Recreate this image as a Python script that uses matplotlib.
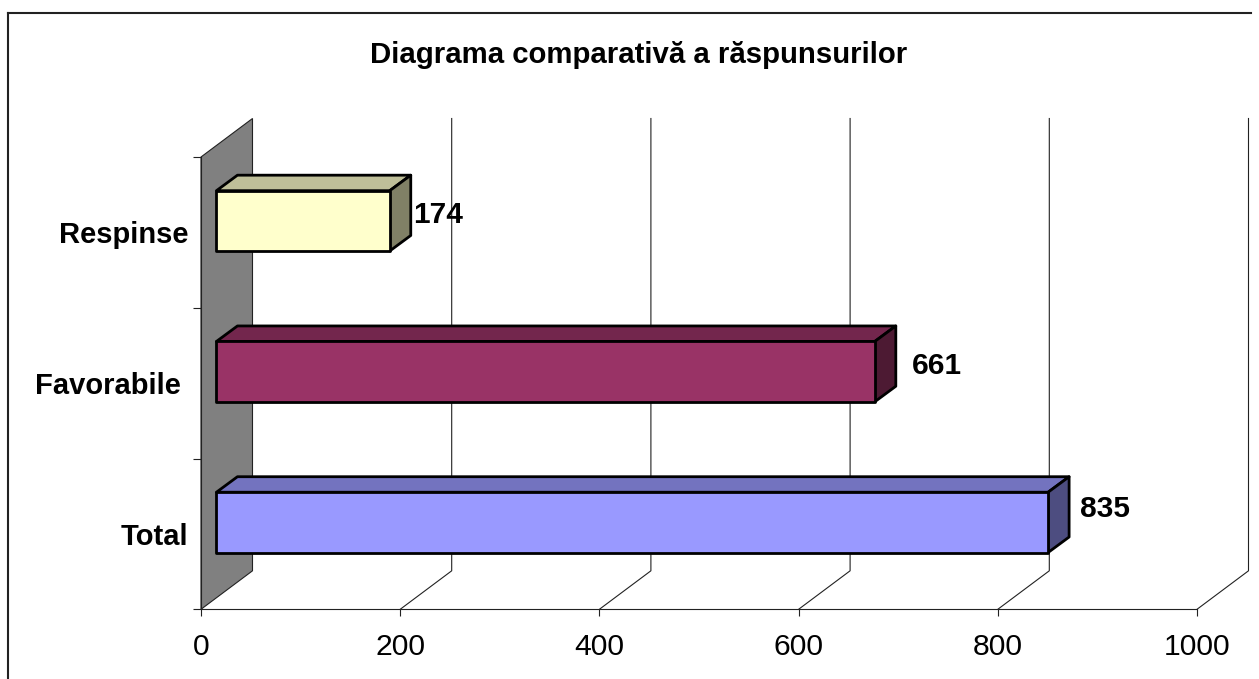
"""Bar chart with a hand-built 3D look, in the old Excel style."""

import matplotlib
matplotlib.use("Agg")
import matplotlib.pyplot as plt
from matplotlib.lines import Line2D
from matplotlib.patches import Rectangle

plt.rcParams["font.family"] = ["Liberation Sans", "DejaVu Sans"]

W, H = 1259, 679

TITLE = "Diagrama comparativă a răspunsurilor"
CATEGORIES = ["Total", "Favorabile ", "Respinse"]
VALUES = [835, 661, 174]
X_TICKS = [0, 200, 400, 600, 800, 1000]
FRONT_COLORS = ["#9999FF", "#993366", "#FFFFCC"]
TOP_COLORS = ["#7373BF", "#73264D", "#BFBF99"]
SIDE_COLORS = ["#4D4D80", "#4D1A33", "#808066"]
LABEL_OFFSETS = [(36, 44), (41, 36), (27, 36)]   # px from the bar end, by eye

# plot front plane in pixels
LEFT, RIGHT, TOP, BOTTOM = 201, 1197, 157, 609.3
WALL_DX, WALL_DY = 51.5, 38.5    # px, depth of the whole chart
BAR_DX, BAR_DY = 21, 15.5        # px, depth of one bar
BAR_SHIFT = 0.3                  # bars sit this far into the depth
BAR_HEIGHT = 0.4


def main():
    fig = plt.figure(figsize=(W / 100, H / 100), dpi=100)
    ax = fig.add_axes([LEFT / W, 1 - BOTTOM / H, (RIGHT - LEFT) / W, (BOTTOM - TOP) / H])
    ax.set_xlim(0, 1000)
    ax.set_ylim(0, 3)
    ax.patch.set_visible(False)

    per_x = 1000 / (RIGHT - LEFT)
    per_y = 3 / (BOTTOM - TOP)
    wall_x, wall_y = WALL_DX * per_x, WALL_DY * per_y
    bar_x, bar_y = BAR_DX * per_x, BAR_DY * per_y
    shift_x, shift_y = BAR_SHIFT * wall_x, BAR_SHIFT * wall_y

    # frame round the chart
    fig.add_artist(Line2D([8 / W, 8 / W], [0, 1 - 13 / H], color="#222222", lw=1.5))
    fig.add_artist(Line2D([8 / W, 1251 / W], [1 - 13 / H, 1 - 13 / H], color="#222222", lw=1.5))

    # side wall
    ax.fill([0, wall_x, wall_x, 0], [0, wall_y, 3 + wall_y, 3],
            facecolor="#808080", edgecolor="#222222", lw=0.8, clip_on=False, zorder=1)

    # gridlines on the back and floor
    for t in X_TICKS[1:]:
        ax.plot([t, t + wall_x, t + wall_x], [0, wall_y, 3 + wall_y],
                color="#222222", lw=0.8, clip_on=False, zorder=1)

    for i, (val, cat) in enumerate(zip(VALUES, CATEGORIES)):
        x0 = shift_x
        x1 = shift_x + val
        y0 = i + 0.5 - BAR_HEIGHT / 2 + shift_y
        y1 = y0 + BAR_HEIGHT
        style = dict(edgecolor="black", lw=2, joinstyle="round", clip_on=False, zorder=3)
        ax.fill([x0, x1, x1 + bar_x, x0 + bar_x], [y1, y1, y1 + bar_y, y1 + bar_y],
                facecolor=TOP_COLORS[i], **style)
        ax.fill([x1, x1 + bar_x, x1 + bar_x, x1], [y0, y0 + bar_y, y1 + bar_y, y1],
                facecolor=SIDE_COLORS[i], **style)
        ax.add_patch(Rectangle((x0, y0), val, BAR_HEIGHT, facecolor=FRONT_COLORS[i], **style))
        ax.annotate(str(val), xy=(x1 + bar_x, y0), xytext=LABEL_OFFSETS[i],
                    textcoords="offset pixels", fontsize=21.5, fontweight="bold",
                    ha="center", va="center", zorder=4)

    for s in ("top", "right"):
        ax.spines[s].set_visible(False)
    for s in ("left", "bottom"):
        ax.spines[s].set_linewidth(0.8)
        ax.spines[s].set_color("#222222")

    ax.set_xticks(X_TICKS)
    ax.tick_params(axis="x", length=5, width=0.8, color="#222222", labelsize=21.7, pad=12)
    ax.set_yticks([0, 1, 2, 3])
    ax.set_yticklabels([])
    ax.tick_params(axis="y", which="major", length=5.5, width=0.8, color="#222222")
    ax.set_yticks([0.5, 1.5, 2.5], minor=True)
    ax.set_yticklabels(CATEGORIES, minor=True, fontsize=21, fontweight="bold")
    ax.tick_params(axis="y", which="minor", length=0, pad=9)

    fig.text(639 / W, 1 - 55 / H, TITLE, fontsize=21.2, fontweight="bold", ha="center", va="center")

    fig.savefig("out.png", dpi=100)
    plt.close(fig)


if __name__ == "__main__":
    main()
